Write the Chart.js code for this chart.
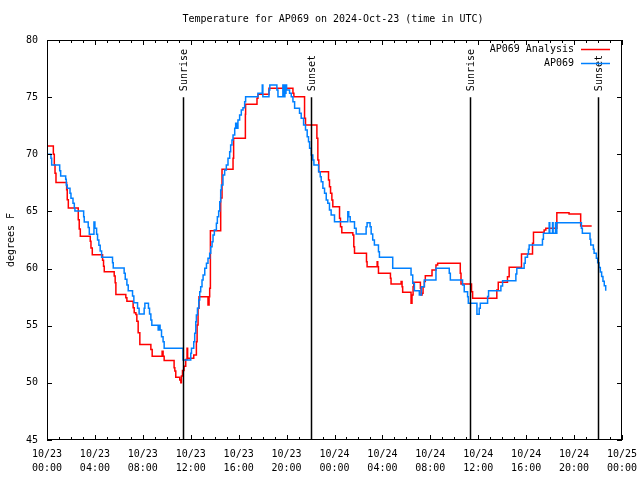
<!DOCTYPE html>
<html>
<head>
<meta charset="utf-8">
<script src="https://cdn.jsdelivr.net/npm/chart.js@4.4.1/dist/chart.umd.min.js"></script>
<style>
  body { margin: 0; background: #fff; }
</style>
</head>
<body>
<canvas id="grafico" width="640" height="480"></canvas>
<script>
  // horas desde 10/23 00:00 UTC, valor vale a partir desse instante (degraus)
  const obsHours = [0, 0.33, 0.39, 1.06, 1.14, 1.56, 1.61, 1.69, 1.92, 2.0, 2.17, 2.28, 2.33, 3.06, 3.11, 3.44, 3.53,
    3.92, 4.0, 4.14, 4.22, 4.33, 4.44, 4.56, 5.47, 5.53, 6.44, 6.53, 6.67, 6.78, 7.14, 7.25, 7.56, 7.69, 8.11, 8.17,
    8.47, 8.56, 8.67, 8.75, 9.28, 9.31, 9.36, 9.41, 9.44, 9.56, 9.69, 9.78, 11.36, 12.0, 12.06, 12.25, 12.33, 12.42,
    12.47, 12.56, 12.67, 12.75, 12.83, 12.94, 13.03, 13.17, 13.31, 13.44, 13.58, 13.67, 13.78, 13.86, 13.97, 14.14,
    14.22, 14.33, 14.42, 14.5, 14.56, 14.69, 14.83, 14.97, 15.11, 15.25, 15.33, 15.44, 15.53, 15.67, 15.75, 15.86,
    15.94, 16.08, 16.22, 16.36, 16.5, 16.58, 17.61, 17.97, 18.02, 18.53, 18.6, 19.19, 19.28, 19.69, 19.74, 19.86,
    19.9, 19.95, 20.0, 20.25, 20.39, 20.53, 20.67, 21.08, 21.22, 21.42, 21.58, 21.72, 21.83, 21.92, 22.06, 22.19,
    22.28, 22.67, 22.81, 22.89, 23.03, 23.17, 23.31, 23.44, 23.58, 23.72, 24.0, 25.11, 25.19, 25.31, 25.67, 25.81,
    26.64, 26.72, 26.97, 27.06, 27.19, 27.33, 27.67, 27.75, 28.86, 30.39, 30.53, 30.67, 31.08, 31.25, 31.5, 32.47,
    33.58, 33.67, 34.69, 34.83, 35.11, 35.17, 35.89, 36.08, 36.17, 36.78, 36.86, 37.89, 38.03, 39.14, 39.22, 39.83,
    39.92, 40.11, 40.19, 40.25, 41.36, 41.44, 41.92, 41.97, 42.2, 42.25, 42.45, 42.5, 42.56, 44.61, 44.69, 45.33,
    45.39, 45.61, 45.67, 45.86, 45.97, 46.08, 46.19, 46.3, 46.41, 46.52, 46.64];
  const obsTemps = [70.0, 69.65, 69.06, 68.57, 68.1, 67.81, 67.31, 67.02, 66.58, 66.15, 65.71, 65.27, 65.04, 64.54, 64.07, 63.6, 63.0,
    64.07, 63.52, 63.0, 62.5, 62.03, 61.54, 61.0, 60.51, 60.05, 59.58, 59.06, 58.56, 58.06, 57.6, 57.01, 56.52, 56.02, 56.52, 56.96,
    56.52, 56.02, 55.5, 55.03, 54.63, 55.03, 54.63, 55.03, 54.63, 54.04, 53.6, 53.02, 52.0, 52.58, 53.02, 53.6, 54.33, 55.35,
    55.94, 56.52, 57.25, 57.98, 58.42, 59.0, 59.44, 60.02, 60.46, 60.9, 61.33, 61.92, 62.35, 62.94, 63.38, 63.96,
    64.54, 65.04, 65.85, 66.88, 67.31, 68.19, 68.63, 69.06, 69.65, 70.23, 70.81, 71.25, 71.69, 72.27, 72.71, 72.27,
    73.0, 73.44, 73.88, 74.08, 74.6, 75.04, 75.33, 76.06, 75.04, 75.63, 76.06, 75.63, 75.04, 76.06, 75.04, 76.06,
    75.33, 76.06, 75.63, 75.33, 75.04, 74.6, 74.02, 73.58, 73.15, 72.56, 72.13, 71.54, 71.1, 70.52, 69.94, 69.5,
    69.06, 68.48, 68.04, 67.6, 67.02, 66.58, 66.0, 65.71, 65.13, 64.69, 64.1, 64.98, 64.54, 64.1, 63.52, 63.02,
    63.67, 64.02, 63.67, 63.02, 62.5, 62.06, 61.48, 60.98, 60.02, 59.44, 58.71, 58.06, 57.69, 58.42, 59.0, 60.02,
    59.58, 59.0, 58.56, 57.98, 57.54, 56.96, 56.0, 56.53, 56.96, 57.55, 58.07, 58.48, 58.94, 59.53, 60.03, 60.46,
    60.99, 61.28, 61.69, 62.06, 62.56, 63.08, 64.02, 63.08, 64.02, 63.08, 64.02, 63.08, 64.02, 63.52, 63.08, 62.56,
    62.06, 61.69, 61.33, 60.9, 60.5, 60.1, 59.7, 59.3, 58.9, 58.5, 58.06];

  const anlHours = [0, 0.53, 0.61, 0.67, 0.75, 1.64, 1.69, 1.78, 2.61, 2.69, 2.78, 3.61, 3.67, 3.78, 4.64, 4.72, 4.78,
    5.61, 5.69, 5.75, 6.58, 6.67, 7.19, 7.28, 7.42, 7.5, 7.61, 7.75, 8.67, 8.78, 9.61, 9.69, 9.78, 10.61, 10.67, 10.75,
    11.08, 11.17, 11.22, 11.31, 11.44, 11.58, 11.69, 11.74, 12.25, 12.47, 12.53, 12.61, 12.69, 13.44, 13.53, 13.58,
    13.64, 14.5, 14.61, 15.53, 15.58, 16.56, 16.58, 17.53, 17.61, 18.53, 20.53, 20.61, 21.5, 21.58, 22.53, 22.61,
    22.69, 23.5, 23.58, 23.67, 23.78, 23.86, 24.42, 24.5, 24.61, 25.53, 25.61, 25.67, 26.67, 26.72, 27.56, 27.61,
    27.67, 28.67, 28.72, 29.56, 29.64, 29.69, 30.39, 30.47, 30.56, 30.61, 31.17, 31.22, 31.31, 31.39, 31.5, 31.58,
    32.14, 32.47, 32.61, 34.5, 34.56, 35.44, 35.53, 37.55, 37.67, 38.44, 38.58, 39.61, 40.53, 40.61, 41.5, 41.64,
    42.56, 43.58, 44.55, 45.47];
  const anlTemps = [70.72, 70.0, 69.06, 68.34, 67.54, 66.9, 66.03, 65.3, 64.28, 63.46, 62.82, 62.38, 61.8, 61.2, 60.73, 60.2, 59.72,
    59.34, 58.76, 57.73, 57.44, 57.15, 56.57, 56.13, 55.98, 55.4, 54.38, 53.36, 52.92, 52.33, 52.77, 52.33, 51.96, 51.32, 51.03, 50.5,
    50.24, 50.0, 50.59, 51.09, 51.46, 52.04, 53.02, 52.15, 52.44, 53.6, 55.06, 56.52, 57.54, 56.81, 57.54, 58.27,
    63.3, 66.17, 68.69, 69.65, 71.4, 73.5, 74.37, 74.9, 75.25, 75.77, 75.33, 75.04, 73.15, 72.56, 71.4, 69.5,
    68.48, 67.75, 67.17, 66.58, 66.0, 65.42, 64.4, 63.67, 63.14, 62.94, 61.92, 61.33, 60.6, 60.17, 60.6, 60.17,
    59.58, 59.15, 58.65, 58.86, 58.42, 57.92, 56.96, 57.69, 58.42, 58.8, 58.27, 57.69, 57.83, 58.42, 58.86, 59.38,
    59.88, 60.31, 60.46, 59.58, 58.65, 57.98, 57.4, 58.13, 58.8, 59.29, 60.11, 61.28, 62.21, 63.17, 63.37, 63.52,
    64.89, 64.78, 63.73, 63.73];

  const sunHours = [11.33, 22.0, 35.33, 46.0];
  const sunLabels = ['Sunrise', 'Sunset', 'Sunrise', 'Sunset'];
  const sunLineTop = 75;

  const xTickDates = ['10/23', '10/23', '10/23', '10/23', '10/23', '10/23', '10/24', '10/24', '10/24', '10/24', '10/24', '10/24', '10/25'];
  const xTickTimes = ['00:00', '04:00', '08:00', '12:00', '16:00', '20:00', '00:00', '04:00', '08:00', '12:00', '16:00', '20:00', '00:00'];

  const fonte = "10px 'DejaVu Sans Mono', monospace";
  const corAnalise = 'rgb(255, 0, 0)';
  const corObs = 'rgb(0, 128, 255)';

  function pontos(horas, valores) {
    return horas.map((h, i) => ({ x: h, y: valores[i] }));
  }

  const moldura = {
    id: 'moldura',
    afterDatasetsDraw(chart) {
      const { ctx, chartArea: a, scales: { x, y } } = chart;
      ctx.save();
      ctx.font = fonte;
      ctx.fillStyle = '#000';
      ctx.strokeStyle = '#000';
      ctx.lineWidth = 1;

      // caixa
      ctx.strokeRect(a.left + 0.5, a.top + 0.5, a.right - a.left - 1, a.bottom - a.top - 1);

      // ticks para dentro nos quatro lados
      ctx.beginPath();
      for (let h = 0; h <= 48; h++) {
        const px = Math.round(x.getPixelForValue(h)) + 0.5;
        const len = h % 4 === 0 ? 5 : 3;
        ctx.moveTo(px, a.bottom); ctx.lineTo(px, a.bottom - len);
        ctx.moveTo(px, a.top); ctx.lineTo(px, a.top + len);
      }
      for (let v = 45; v <= 80; v += 5) {
        const py = Math.round(y.getPixelForValue(v)) + 0.5;
        ctx.moveTo(a.left, py); ctx.lineTo(a.left + 5, py);
        ctx.moveTo(a.right, py); ctx.lineTo(a.right - 5, py);
      }
      ctx.stroke();

      // nascer / por do sol
      ctx.lineWidth = 1.5;
      const topo = y.getPixelForValue(sunLineTop);
      sunHours.forEach((h, i) => {
        const px = Math.round(x.getPixelForValue(h)) + 0.5;
        ctx.beginPath();
        ctx.moveTo(px, a.bottom);
        ctx.lineTo(px, topo);
        ctx.stroke();
        ctx.save();
        ctx.translate(px + 1, topo - 6);
        ctx.rotate(-Math.PI / 2);
        ctx.textAlign = 'left';
        ctx.textBaseline = 'middle';
        ctx.fillText(sunLabels[i], 0, 0);
        ctx.restore();
      });

      // legenda
      ctx.textAlign = 'right';
      ctx.textBaseline = 'middle';
      const itens = [['AP069 Analysis', corAnalise], ['AP069', corObs]];
      itens.forEach(([txt, cor], i) => {
        const ly = 49 + i * 14;
        ctx.fillStyle = '#000';
        ctx.fillText(txt, 574, ly);
        ctx.strokeStyle = cor;
        ctx.lineWidth = 1.5;
        ctx.beginPath();
        ctx.moveTo(581, ly + 0.5);
        ctx.lineTo(610, ly + 0.5);
        ctx.stroke();
      });

      // titulo e rotulo do eixo y
      ctx.fillStyle = '#000';
      ctx.textAlign = 'center';
      ctx.fillText('Temperature for AP069 on 2024-Oct-23 (time in UTC)', 333, 19);
      ctx.save();
      ctx.translate(11, 240);
      ctx.rotate(-Math.PI / 2);
      ctx.fillText('degrees F', 0, 0);
      ctx.restore();

      ctx.restore();
    }
  };

  window.grafico = new Chart(document.getElementById('grafico'), {
    type: 'line',
    data: {
      datasets: [
        { label: 'AP069 Analysis', data: pontos(anlHours, anlTemps), borderColor: corAnalise, stepped: true, order: 1 },
        { label: 'AP069', data: pontos(obsHours, obsTemps), borderColor: corObs, stepped: true, order: 0 }
      ]
    },
    options: {
      responsive: false,
      animation: false,
      layout: { padding: { top: 40, right: 18, left: 0, bottom: 0 } },
      elements: { point: { radius: 0 }, line: { borderWidth: 1.5, fill: false } },
      plugins: { legend: { display: false }, tooltip: { enabled: false }, title: { display: false } },
      scales: {
        x: {
          type: 'linear', min: 0, max: 48,
          afterFit: s => { s.height = 40; s.paddingLeft = 0; s.paddingRight = 0; },
          grid: { display: false, drawTicks: false },
          border: { display: false },
          ticks: {
            stepSize: 4, autoSkip: false, maxRotation: 0, padding: 7, color: '#000',
            font: { family: "'DejaVu Sans Mono', monospace", size: 10, lineHeight: 1.4 },
            callback: v => { const i = Math.round(v / 4); return [xTickDates[i], xTickTimes[i]]; }
          }
        },
        y: {
          min: 45, max: 80,
          afterFit: s => { s.width = 47; s.paddingTop = 0; s.paddingBottom = 0; },
          grid: { display: false, drawTicks: false },
          border: { display: false },
          ticks: {
            stepSize: 5, padding: 9, color: '#000',
            font: { family: "'DejaVu Sans Mono', monospace", size: 10 }
          }
        }
      }
    },
    plugins: [moldura]
  });
</script>
</body>
</html>
